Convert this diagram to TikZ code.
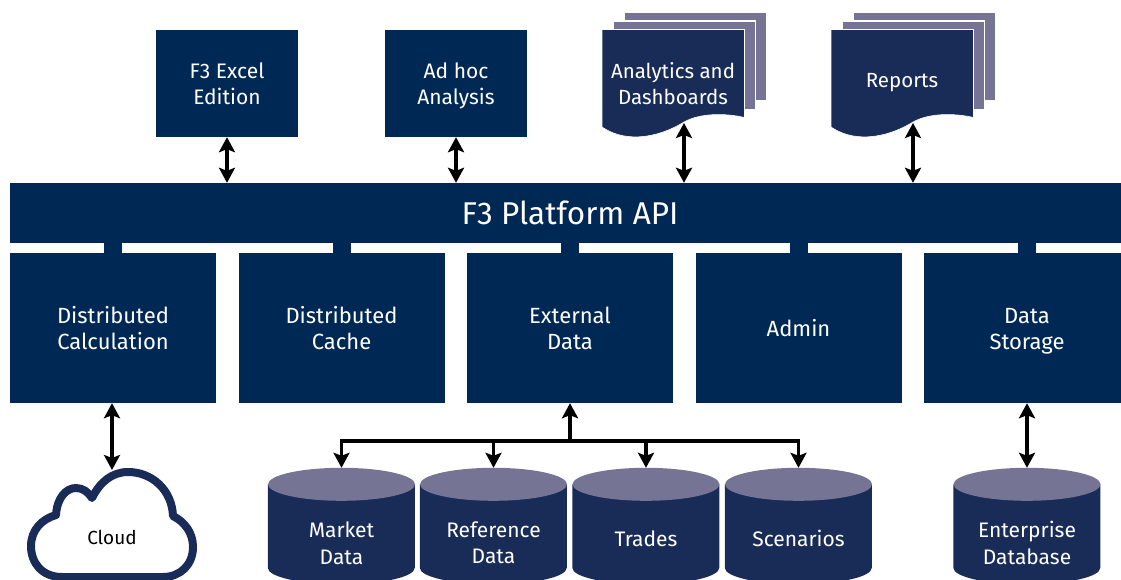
\documentclass[tikz,border=0pt]{standalone}
\usepackage{xcolor}
\usepackage{fontspec}
\setmainfont{Fira Sans}
\usepackage{tikz}
\usetikzlibrary{arrows.meta}
\definecolor{boxblue}{HTML}{002855}
\definecolor{docblue}{HTML}{182C57}
\definecolor{docgrey}{HTML}{767494}
\tikzset{
  boxtext/.style={text=white, align=center, font=\fontsize{21}{26.5}\selectfont,
    execute at end node=\strut},
  onetext/.style={execute at begin node=\rule{0pt}{24pt}},
  twotext/.style={execute at begin node=\rule{0pt}{51pt}},
  topbox/.style={boxtext, execute at begin node=\rule{0pt}{50pt}, fill=boxblue, inner sep=0pt, minimum width=142pt, minimum height=107pt},
  midbox/.style={boxtext, fill=boxblue, inner sep=0pt, minimum width=206pt, minimum height=150pt,
    font=\fontsize{22}{26.5}\selectfont},
  dbbox/.style={inner sep=0pt, minimum width=147pt, minimum height=117pt},
  backpage/.style={fill=docgrey, draw=white, line width=1.2pt},
  frontpage/.style={fill=docblue, draw=white, line width=0.6pt},
  linkline/.style={line width=3.6pt, -{Stealth[length=15pt,width=16pt,inset=3pt]}},
  biline/.style={line width=3.6pt, {Stealth[length=15pt,width=16pt,inset=3pt]}-{Stealth[length=15pt,width=16pt,inset=3pt]}},
}
\begin{document}
\begin{tikzpicture}[x=1pt,y=-1pt]
\useasboundingbox (0,0) rectangle (1121,580);
\clip (0,0) rectangle (1121,580);
% api bar
\node[text=white, fill=boxblue, inner sep=0pt, minimum width=1120pt, minimum height=60pt, font=\fontsize{31.5}{36}\selectfont] (api) at (570,213) {F3 Platform API};
% top boxes
\node[topbox] (excel) at (227,83.5) {F3 Excel\\Edition};
\node[topbox] (adhoc) at (456,83.5) {Ad hoc\\Analysis};
% stacked pages
\foreach \s/\nm/\ty/\sty/\txt in {0/dash/83/twotext/{Analytics and\\Dashboards}, 229/rep/79/onetext/{Reports}} {
  \begin{scope}[shift={(\s,0)}]
  \fill[backpage] (624,12) rectangle (766.5,100.5);
  \fill[backpage] (613,21) rectangle (755.5,109.5);
  \filldraw[frontpage] (602,29.5) -- (744.5,29.5) -- (744.5,117.5)
    .. controls (725,113) and (700,113) .. (684,122)
    .. controls (665,134) and (630,146) .. (602,127) -- cycle;
  \coordinate (\nm tip) at (684,123);
  \node[boxtext, \sty, font=\fontsize{20.5}{26.5}\selectfont] (\nm) at (673,\ty) {\txt};
  \end{scope}
}
% middle boxes
\foreach \x/\nm/\sty/\txt in {113/calc/twotext/{Distributed\\Calculation}, 341.5/cache/twotext/{Distributed\\Cache},
    570/ext/twotext/{External\\Data}, 798.5/admin/onetext/{Admin}, 1027/store/twotext/{Data\\Storage}} {
  \node[midbox, \sty] (\nm) at (\x,328) {\txt};
  \draw[boxblue, line width=18pt] (\nm.north) -- (\nm.north |- api.south);
}
% databases
\foreach \x/\nm/\ty/\sty/\txt in {341.5/market/542.5/twotext/{Market\\Data}, 493.5/refdata/542/twotext/{Reference\\Data},
    646/trades/538.5/onetext/{Trades}, 798.5/scen/538.5/onetext/{Scenarios}, 1027/entdb/542.5/twotext/{Enterprise\\Database}} {
  \node[dbbox] (\nm) at (\x,526.5) {};
  \fill[docblue] (\nm.north west) ++(0,16.5) -- ++(0,83.5)
    arc[start angle=180, end angle=360, x radius=73.5pt, y radius=16.5pt] -- ++(0,-83.5) -- cycle;
  \fill[docgrey] (\nm.north) ++(0,16.5) ellipse[x radius=73.5pt, y radius=16.5pt];
  \node[boxtext, \sty] (\nm txt) at (\x,\ty) {\txt};
}
% cloud
\filldraw[fill=white, draw=docblue, line width=8pt, line join=round]
  (62,577) .. controls (42,577) and (31,563) .. (31,546)
  .. controls (31,530) and (42,519) .. (56,515)
  .. controls (57,498) and (66,488) .. (76,488)
  .. controls (83,488) and (88,492) .. (92,498)
  .. controls (100,482) and (112,472) .. (128,472)
  .. controls (152,472) and (172,490) .. (173,516)
  .. controls (185,522) and (193,533) .. (193,547)
  .. controls (193,565) and (180,577) .. (163,577) -- cycle;
\node[font=\fontsize{19}{23}\selectfont] (cloud) at (112,537) {Cloud};
\coordinate (cloudtop) at (112,470);
% edges
\draw[biline] (excel.south) -- (excel.south |- api.north);
\draw[biline] (adhoc.south) -- (adhoc.south |- api.north);
\draw[biline] (dashtip) -- (dashtip |- api.north);
\draw[biline] (reptip) -- (reptip |- api.north);
\draw[biline] (cloudtop |- calc.south) -- (cloudtop);
\draw[biline] (store.south) -- (entdb.north);
\coordinate (bus) at (570,441);
\draw[linkline] (bus) -- (ext.south);
\foreach \nm in {market,refdata,trades,scen}
  \draw[linkline] (bus) -| (\nm.north);
\end{tikzpicture}
\end{document}
